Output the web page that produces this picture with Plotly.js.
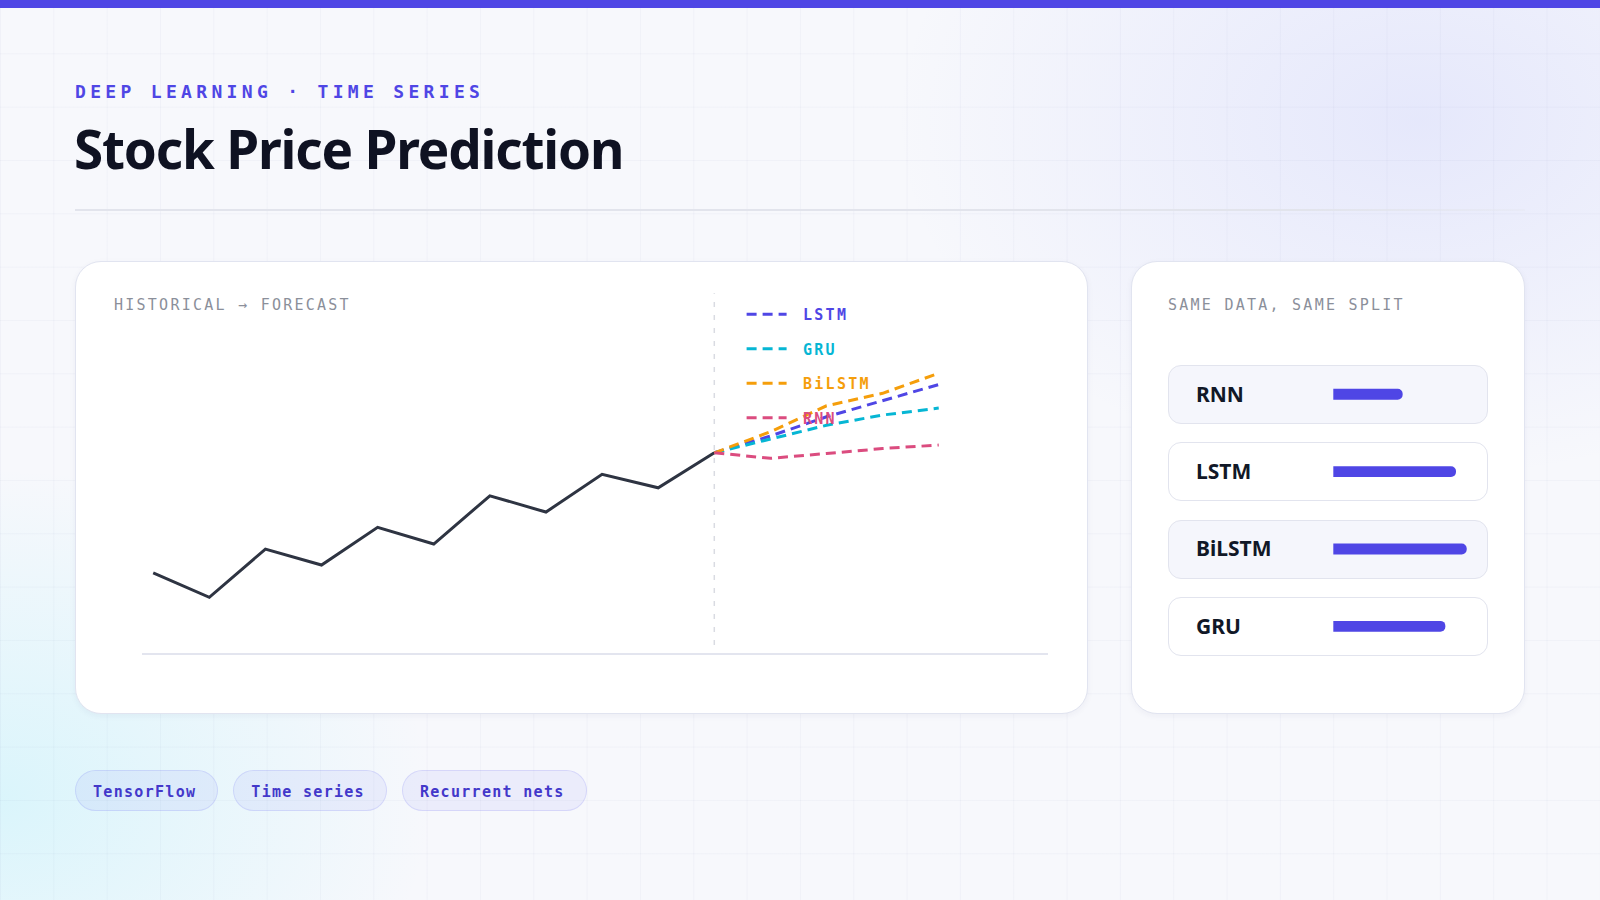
<!DOCTYPE html>
<html>
<head>
<meta charset="utf-8">
<script src="https://cdn.plot.ly/plotly-3.0.1.min.js"></script>
<style>
html,body{margin:0;padding:0;width:1600px;height:900px;overflow:hidden;}
body{position:relative;font-family:"Noto Sans",sans-serif;background:#F7F8FC;}
#bg{position:absolute;left:0;top:0;width:1600px;height:900px;background:
  radial-gradient(ellipse 700px 480px at 1420px 120px, rgba(129,140,248,0.15), rgba(129,140,248,0) 75%),
  radial-gradient(ellipse 600px 460px at 0px 800px, rgba(103,232,249,0.2), rgba(103,232,249,0) 72%),
  #F7F8FC;}
#grid{position:absolute;left:0;top:0;width:1600px;height:900px;
  background-image:linear-gradient(to right, rgba(90,96,160,0.045) 1px, transparent 1px),
                   linear-gradient(to bottom, rgba(90,96,160,0.045) 1px, transparent 1px);
  background-size:53.333px 53.333px;}
#topbar{position:absolute;left:0;top:0;width:1600px;height:8px;background:#4F46E5;}
.eyebrow{position:absolute;left:75px;top:83px;font-family:"DejaVu Sans Mono",monospace;font-weight:700;font-size:18px;letter-spacing:0.24em;color:#4F46E5;line-height:1;white-space:nowrap;}
.title{position:absolute;left:74px;top:122px;font-family:"Noto Sans",sans-serif;font-weight:700;font-size:53px;letter-spacing:-0.022em;color:#0F1222;line-height:1;white-space:nowrap;}
.rule{position:absolute;left:75px;top:209px;width:1450px;height:2px;background:linear-gradient(to right,#E2E4EC 0%,#E2E4EC 85%,rgba(226,228,236,0.3) 100%);}
.card{position:absolute;background:#FFFFFF;border:1.5px solid #E1E4F0;border-radius:26px;box-sizing:border-box;box-shadow:0 2px 6px rgba(30,41,90,0.05);}
.cap{position:absolute;font-family:"DejaVu Sans Mono",monospace;font-size:15px;letter-spacing:0.15em;color:#8B8F9A;line-height:1;white-space:nowrap;}
.row{position:absolute;left:1168px;width:320px;height:59px;border:1px solid #E2E4EE;border-radius:13px;box-sizing:border-box;background:#FFFFFF;}
.row.alt{background:#F5F6FC;}
#chips{position:absolute;left:75px;top:770px;display:flex;gap:15px;}
.chip{height:41px;box-sizing:border-box;border:1px solid rgba(99,102,241,0.16);background:rgba(99,102,241,0.08);border-radius:21px;padding:3px 21px 0 17px;display:flex;align-items:center;font-family:"DejaVu Sans Mono",monospace;font-weight:700;font-size:15px;letter-spacing:1.3px;color:#4338CA;white-space:nowrap;}
#chart{position:absolute;left:0;top:0;width:1600px;height:900px;}
</style>
</head>
<body>
<div id="bg"></div>
<div id="grid"></div>
<div id="topbar"></div>
<div class="eyebrow">DEEP LEARNING · TIME SERIES</div>
<div class="title">Stock Price Prediction</div>
<div class="rule"></div>
<div class="card" style="left:75px;top:261px;width:1013px;height:453px;"></div>
<div class="card" style="left:1131px;top:261px;width:394px;height:453px;"></div>
<div class="cap" style="left:114px;top:298px;">HISTORICAL → FORECAST</div>
<div class="cap" style="left:1168px;top:298px;">SAME DATA, SAME SPLIT</div>
<div id="rows"></div>
<div id="chips"></div>
<div id="chart"></div>
<script>
// ---- data ----
var histSteps = [0, 1, 2, 3, 4, 5, 6, 7, 8, 9, 10];
var histPrice = [32.2, 22.4, 41.7, 35.3, 50.4, 43.7, 63.0, 56.5, 71.6, 66.2, 80.2];
var forecastSteps = [10, 11, 12, 13, 14];
var lstmForecast   = [80.2, 86.9, 94.6, 101.1, 107.5];
var gruForecast    = [80.2, 85.6, 91.2, 95.3, 98.1];
var bilstmForecast = [80.2, 88.6, 99.0, 104.0, 112.0];
var rnnForecast    = [80.2, 78.0, 79.9, 81.9, 83.3];
var seriesNames  = ['LSTM', 'GRU', 'BiLSTM', 'RNN'];
var seriesColors = ['#4F46E5', '#06B6D4', '#F59E0B', '#DB4C7F'];
var modelNames  = ['RNN', 'LSTM', 'BiLSTM', 'GRU'];
var modelScores = [52, 92, 100, 84];
var tags = ['TensorFlow', 'Time series', 'Recurrent nets'];

// ---- decorations built from data ----
var rowsEl = document.getElementById('rows');
modelNames.forEach(function (m, i) {
  var d = document.createElement('div');
  d.className = 'row' + (i % 2 === 0 ? ' alt' : '');
  d.style.top = (365 + i * 77.33) + 'px';
  rowsEl.appendChild(d);
});
var chipsEl = document.getElementById('chips');
tags.forEach(function (t) {
  var c = document.createElement('div');
  c.className = 'chip';
  c.textContent = t;
  chipsEl.appendChild(c);
});

// ---- plotly ----
var W = 1600, H = 900;
var forecastSets = [lstmForecast, gruForecast, bilstmForecast, rnnForecast];
var traces = [{
  type: 'scatter', mode: 'lines', x: histSteps, y: histPrice,
  line: {color: '#2E3442', width: 3}, showlegend: false, xaxis: 'x', yaxis: 'y'
}];
forecastSets.forEach(function (vals, i) {
  traces.push({
    type: 'scatter', mode: 'lines', x: forecastSteps, y: vals,
    name: '<span style="color:' + seriesColors[i] + ';letter-spacing:2.3px">&nbsp;' + seriesNames[i] + '</span>',
    legendgroup: seriesNames[i],
    line: {color: seriesColors[i], width: 3, dash: '10px,6px'},
    xaxis: 'x', yaxis: 'y'
  });
});
traces.push({
  type: 'bar', orientation: 'h', x: modelScores, y: modelNames,
  marker: {color: '#4F46E5'}, width: 0.14, showlegend: false,
  xaxis: 'x2', yaxis: 'y2'
});

var splitStep = histSteps[histSteps.length - 1];
var pxPerStep = 56.11;
var layout = {
  width: W, height: H,
  margin: {l: 0, r: 0, t: 0, b: 0},
  paper_bgcolor: 'rgba(0,0,0,0)', plot_bgcolor: 'rgba(0,0,0,0)',
  showlegend: true,
  hovermode: false,
  barcornerradius: 6,
  xaxis: {
    domain: [141.5 / W, 1048 / W],
    range: [-11.7 / pxPerStep, (1048 - 153.2) / pxPerStep],
    showline: true, linecolor: '#E3E5EF', linewidth: 2,
    showgrid: false, zeroline: false, showticklabels: false, ticks: '', fixedrange: true
  },
  yaxis: {
    domain: [1 - 653.3 / H, 1 - 293.3 / H],
    range: [0, 144],
    showline: false, showgrid: false, zeroline: false, showticklabels: false, ticks: '', fixedrange: true
  },
  xaxis2: {
    anchor: 'y2',
    domain: [1193 / W, 1488 / W],
    range: [-(1333.3 - 1193) / 1.334, (1488 - 1333.3) / 1.334],
    showline: false, showgrid: false, zeroline: false, showticklabels: false, ticks: '', fixedrange: true
  },
  yaxis2: {
    anchor: 'x2',
    domain: [1 - 665 / H, 1 - 355.6 / H],
    type: 'category', categoryorder: 'array', categoryarray: modelNames,
    range: [modelNames.length - 0.5, -0.5],
    ticklabelposition: 'inside', ticks: '',
    tickfont: {family: 'Noto Sans', size: 21, weight: 700, color: '#111827'},
    showline: false, showgrid: false, zeroline: false, fixedrange: true
  },
  legend: {
    x: 741.6 / W, xanchor: 'left',
    y: 1 - 298 / H, yanchor: 'top',
    bgcolor: 'rgba(0,0,0,0)', borderwidth: 0,
    traceorder: 'grouped', tracegroupgap: 12,
    itemwidth: 40,
    font: {family: 'DejaVu Sans Mono', size: 15, weight: 700, color: '#4F46E5'}
  },
  shapes: [{
    type: 'line', xref: 'x', yref: 'y domain',
    x0: splitStep, x1: splitStep, y0: 0.023, y1: 1,
    line: {color: '#D9DBE2', width: 1.5, dash: '5px,8px'}, layer: 'below'
  }]
};
Plotly.newPlot('chart', traces, layout, {staticPlot: true, displayModeBar: false});
</script>
</body>
</html>
